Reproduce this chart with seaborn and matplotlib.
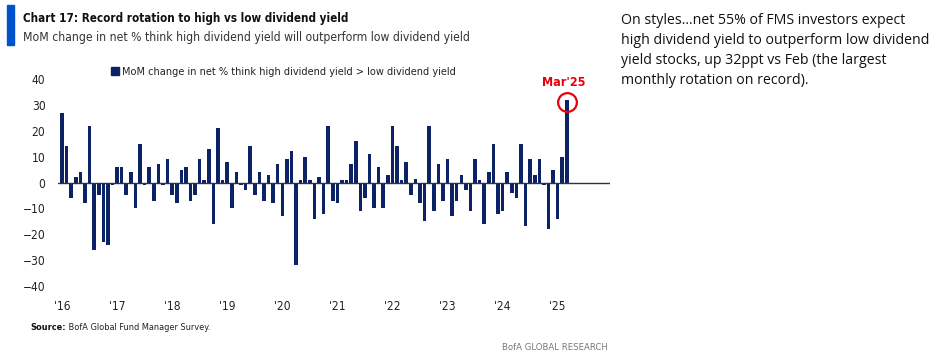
import matplotlib
matplotlib.use("Agg")
import matplotlib.pyplot as plt
from matplotlib.patches import Patch, Rectangle
import seaborn as sns
import pandas as pd

# MoM change in net % (high dividend yield > low dividend yield), Jan'16 - Mar'25
v2016 = [27, 14, -6, 2, 4, -8, 22, -26, -5, -23, -24, -1]
v2017 = [6, 6, -5, 4, -10, 15, -1, 6, -7, 7, -1, 9]
v2018 = [-5, -8, 5, 6, -7, -5, 9, 1, 13, -16, 21, 1]
v2019 = [8, -10, 4, -1, -3, 14, -5, 4, -7, 3, -8, 7]
v2020 = [-13, 9, 12, -32, 1, 10, 1, -14, 2, -12, 22, -7]
v2021 = [-8, 1, 1, 7, 16, -11, -6, 11, -10, 6, -10, 3]
v2022 = [22, 14, 1, 8, -5, 1.5, -8, -15, 22, -11, 7, -7]
v2023 = [9, -13, -7, 3, -3, -11, 9, 1, -16, 4, 15, -12]
v2024 = [-11, 4, -4, -6, 15, -17, 9, 3, 9, -1, -18, 5]
v2025 = [-14, 10, 32]

years = [2016, 2017, 2018, 2019, 2020, 2021, 2022, 2023, 2024, 2025]
year_labels = ["'16", "'17", "'18", "'19", "'20", "'21", "'22", "'23", "'24", "'25"]
series = [v2016, v2017, v2018, v2019, v2020, v2021, v2022, v2023, v2024, v2025]

rows = []
for yr, vals in zip(years, series):
    for m, v in enumerate(vals):
        rows.append({"month": f"{yr}-{m + 1:02d}", "value": v})
df = pd.DataFrame(rows)

navy = "#0B2265"
red = "#E8000B"

sns.set_theme(style="white")
plt.rcParams["font.family"] = ["DejaVu Sans"]
plt.rcParams["font.stretch"] = "condensed"

fig = plt.figure(figsize=(9.4, 3.59), dpi=100)
ax = fig.add_axes([58 / 940, 1 - 286 / 359, 552 / 940, 207 / 359])

sns.barplot(data=df, x="month", y="value", color=navy, saturation=1,
            width=0.78, errorbar=None, linewidth=0, ax=ax)

ax.set_ylim(-40, 40)
ax.set_xlim(-0.87, 119.4)
ax.axhline(0, color="#333333", lw=1)
for s in ax.spines.values():
    s.set_visible(False)
ax.set_xlabel("")
ax.set_ylabel("")
ax.set_yticks(range(-40, 41, 10))
ax.set_xticks([i * 12 for i in range(len(year_labels))])
ax.set_xticklabels(year_labels)
ax.tick_params(axis="both", length=0, labelsize=8.6, colors="#222222")
ax.tick_params(axis="y", pad=9)
ax.tick_params(axis="x", pad=10)

# highlight latest month
last = len(df) - 1
ax.plot([last], [31], marker="o", ms=13.5, mfc="none", mec=red, mew=1.6)
ax.text(last - 0.6, 38.5, "Mar'25", color=red, fontsize=9, fontweight="bold",
        ha="center", va="center")

fig.legend(handles=[Patch(color=navy)],
           labels=["MoM change in net % think high dividend yield > low dividend yield"],
           loc="center left", bbox_to_anchor=(111 / 940, 1 - 72 / 359),
           frameon=False, fontsize=7.8, handlelength=0.75, handleheight=0.75,
           handletextpad=0.3, borderpad=0, borderaxespad=0, labelcolor="#222222")

# header
fig.patches.append(Rectangle((7 / 940, 1 - 45 / 359), 7 / 940, 40 / 359,
                             transform=fig.transFigure, color="#0052CC"))
fig.text(23 / 940, 1 - 22 / 359, "Chart 17: Record rotation to high vs low dividend yield",
         fontsize=8.4, fontweight="bold", color="#111111", va="baseline")
fig.text(23 / 940, 1 - 41 / 359,
         "MoM change in net % think high dividend yield will outperform low dividend yield",
         fontsize=8.75, color="#333333", va="baseline")

# commentary on the right
notes = ["On styles\u2026net 55% of FMS investors expect",
         "high dividend yield to outperform low dividend",
         "yield stocks, up 32ppt vs Feb (the largest",
         "monthly rotation on record)."]
for i, line in enumerate(notes):
    fig.text(621 / 940, 1 - (23.5 + 20 * i) / 359, line, fontsize=10.2,
             family="Open Sans", fontstretch="normal", color="#111111", va="baseline")

# footer
src = fig.text(30 / 940, 1 - 330 / 359, "Source:", fontsize=6.6, fontweight="bold",
               color="#111111", va="baseline")
ax.annotate(" BofA Global Fund Manager Survey.", xy=(1, 0), xycoords=src,
            fontsize=6.6, color="#222222", va="bottom", annotation_clip=False)
fig.text(608 / 940, 1 - 350 / 359, "BofA GLOBAL RESEARCH", fontsize=6.8,
         color="#777777", ha="right", va="baseline")

fig.savefig("out.png", dpi=100)
